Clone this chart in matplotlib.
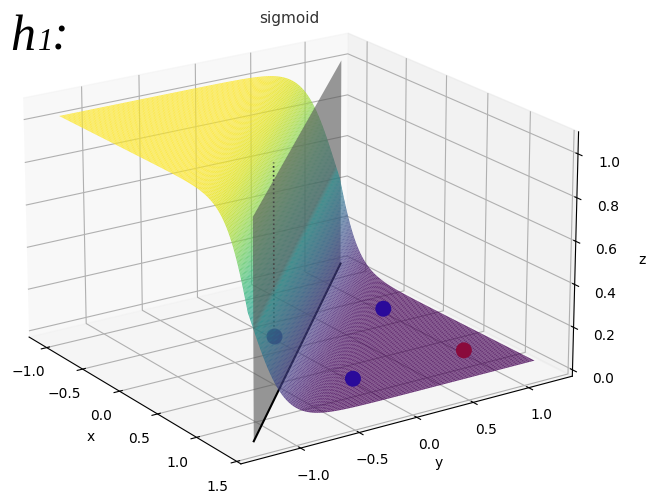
import numpy as np
import matplotlib
matplotlib.use("Agg")
import matplotlib.pyplot as plt
from mpl_toolkits.mplot3d.art3d import Poly3DCollection

# input points
px = [-0.18, 0.82, -0.18, 0.82]
py = [-0.03, -0.03, 0.97, 0.97]
pz = [0, 0, 0, 0]
pc = ["#2a0a9a", "#2a0a9a", "#2a0a9a", "#8a0a3c"]

# sigmoid weights
w1 = -7.0
w2 = -7.0
b = 0.35

xgrid = np.arange(-1.18, 1.27, 0.02)
ygrid = np.arange(-1.24, 1.29, 0.02)
X, Y = np.meshgrid(xgrid, ygrid)
Z = 1 / (1 + np.exp(-(w1 * X + w2 * Y + b)))

fig = plt.figure(figsize=(6.51, 4.99), dpi=100)
ax = fig.add_axes([-0.085, -0.055, 1.06, 1.13], projection="3d", proj_type="persp", focal_length=1.3)
ax.computed_zorder = False
ax.view_init(elev=20, azim=-34)
ax.set_box_aspect((4, 4, 2.6), zoom=1.06)

# surface split so the plane sits between the two halves
colors_back = plt.cm.viridis(Z)
colors_back[..., 3] = np.where(Z >= 0.5, 0.8, 0.0)
colors_front = plt.cm.viridis(Z)
colors_front[..., 3] = np.where(Z >= 0.5, 0.0, 0.8)
ax.plot_surface(X, Y, Z, facecolors=colors_back, shade=False, rstride=1, cstride=1,
                linewidth=0, zorder=1)

# first point and its dotted line stay behind the plane
ax.plot([px[0], px[0]], [py[0], py[0]], [0, 0.82], color="#333333", ls=":", lw=1.2, zorder=2)
ax.scatter(px[:1], py[:1], pz[:1], c=pc[:1], s=110, depthshade=False, zorder=2)

# separating plane
plane_x = [1.37, -1.14, -1.14, 1.37]
plane_y = [-1.27, 1.26, 1.26, -1.27]
plane_z = [0, 0, 1, 1]
ax.add_collection3d(Poly3DCollection([list(zip(plane_x, plane_y, plane_z))], facecolor="#555555",
                                     edgecolor="none", alpha=0.6, zorder=3))
ax.plot(plane_x[:2], plane_y[:2], plane_z[:2], color="black", lw=1.5, zorder=4)

ax.plot_surface(X, Y, Z, facecolors=colors_front, shade=False, rstride=1, cstride=1,
                linewidth=0, zorder=5)
ax.scatter(px[1:], py[1:], pz[1:], c=pc[1:], s=110, depthshade=False, zorder=6)

ax.set_xlim(-1.25, 1.55)
ax.set_ylim(-1.5, 1.4)
ax.set_zlim(-0.03, 1.1)
ax.set_xticks([-1.0, -0.5, 0.0, 0.5, 1.0, 1.5])
ax.set_yticks([-1.0, -0.5, 0.0, 0.5, 1.0])
ax.set_zticks([0.0, 0.2, 0.4, 0.6, 0.8, 1.0])
ax.set_xlabel("x")
ax.set_ylabel("y")
ax.set_zlabel("z")
ax.set_title("sigmoid", fontsize=11, color="#333333", y=0.955)

fig.text(0.015, 0.90, "h", family="Liberation Serif", style="italic", fontsize=36)
fig.text(0.058, 0.90, "1", family="Liberation Serif", style="italic", fontsize=22)
fig.text(0.08, 0.90, ":", family="Liberation Serif", style="italic", fontsize=36)

fig.savefig("out.png", dpi=100)
